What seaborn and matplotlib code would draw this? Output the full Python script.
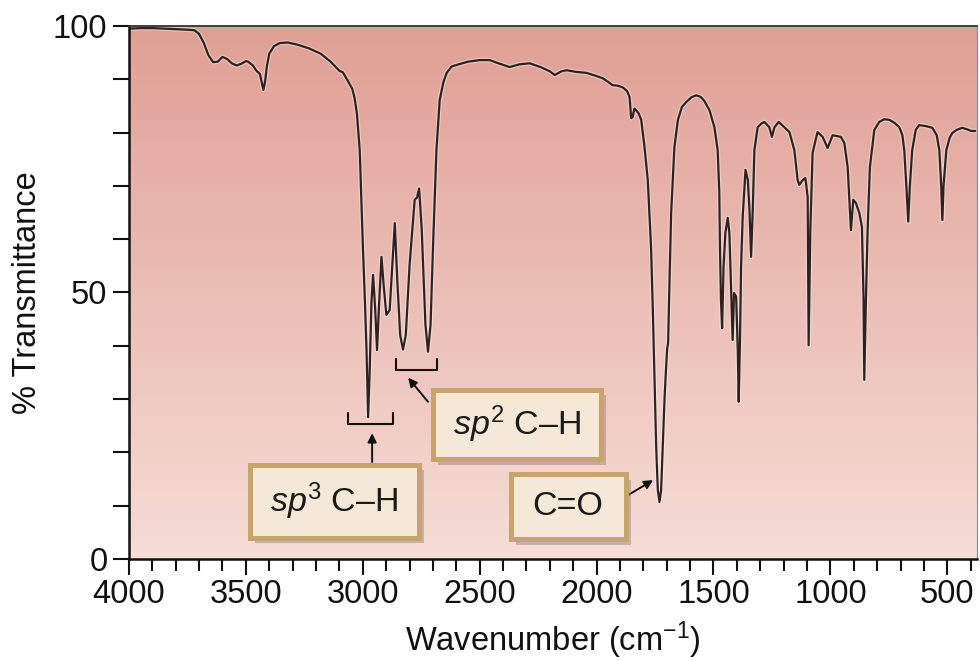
import numpy as np
import matplotlib
matplotlib.use("Agg")
import matplotlib.pyplot as plt
import matplotlib.patheffects as pe
from matplotlib.patches import Rectangle
from matplotlib.colors import to_rgb
import seaborn as sns

# ── Spectrum values ──
wavenumber = [4000, 3950, 3900, 3850, 3800, 3750, 3720, 3700, 3680, 3660, 3640, 3620,
              3600, 3580, 3560, 3540, 3520, 3500, 3490, 3470, 3455, 3440, 3430, 3425,
              3418, 3410, 3400, 3380, 3355, 3320, 3280, 3230, 3180, 3140, 3120, 3100,
              3085, 3065, 3045, 3035, 3025, 3013, 3006, 2999, 2991, 2984, 2977, 2970,
              2963, 2956, 2947, 2939, 2930, 2920, 2910, 2899, 2885, 2874, 2863, 2852,
              2840, 2828, 2816, 2800, 2778, 2768, 2759, 2748, 2732, 2721, 2710, 2700,
              2685, 2671, 2655, 2641, 2620, 2598, 2550, 2500, 2457, 2420, 2372, 2330,
              2286, 2240, 2200, 2179, 2150, 2128, 2090, 2043, 2000, 1974, 1950, 1932,
              1910, 1889, 1870, 1859, 1852, 1846, 1838, 1831, 1820, 1809, 1795, 1781,
              1774, 1767, 1759, 1752, 1745, 1738, 1731, 1724, 1717, 1709, 1702, 1698,
              1694, 1688, 1681, 1667, 1652, 1635, 1617, 1595, 1574, 1555, 1540, 1517,
              1496, 1482, 1475, 1472, 1468, 1463, 1457, 1449, 1439, 1432, 1425, 1418,
              1412, 1403, 1396, 1392, 1386, 1382, 1375, 1363, 1353, 1346, 1339, 1332,
              1325, 1311, 1295, 1282, 1261, 1250, 1239, 1221, 1197, 1175, 1154, 1140,
              1133, 1118, 1107, 1097, 1093, 1086, 1076, 1055, 1033, 1012, 990, 955,
              940, 926, 919, 912, 902, 891, 876, 865, 858, 855, 848, 841, 831, 812,
              791, 770, 748, 725, 705, 692, 684, 675, 667, 660, 650, 635, 620, 590,
              564, 545, 534, 526, 521, 516, 504, 490, 479, 460, 436, 415, 397, 380]
transmittance = [99.5, 99.6, 99.6, 99.5, 99.4, 99.3, 99.2, 98.5, 96.8, 94.5, 93.2, 93.3,
                 94.2, 93.8, 93.0, 92.6, 92.9, 93.4, 93.3, 92.6, 91.6, 91.0, 89.0, 88.0,
                 89.5, 92.5, 94.8, 96.2, 96.8, 96.9, 96.5, 95.8, 94.8, 93.4, 92.5, 91.6,
                 91.3, 89.8, 88.2, 86.5, 83.5, 76.7, 67.4, 58.0, 48.6, 39.2, 26.6, 36.0,
                 48.0, 53.3, 47.0, 39.2, 48.0, 56.7, 51.0, 45.8, 46.7, 55.0, 63.0, 52.0,
                 42.0, 39.3, 42.0, 55.0, 67.4, 67.8, 69.5, 62.0, 44.0, 38.9, 44.0, 58.0,
                 76.7, 86.1, 89.5, 91.2, 92.4, 92.7, 93.3, 93.6, 93.6, 93.0, 92.3, 92.8,
                 93.0, 92.3, 91.5, 90.8, 91.5, 91.7, 91.4, 91.2, 90.6, 90.2, 89.5, 88.9,
                 88.8, 88.5, 87.8, 86.7, 82.7, 82.9, 84.5, 84.2, 83.6, 82.4, 77.3, 71.1,
                 64.9, 58.5, 46.1, 33.6, 21.0, 12.9, 10.7, 12.9, 21.0, 30.4, 36.5, 39.5,
                 40.5, 52.3, 64.9, 77.3, 82.4, 84.8, 85.7, 86.6, 87.0, 86.7, 86.0, 84.2,
                 81.0, 76.7, 68.7, 58.0, 48.6, 43.3, 54.8, 61.2, 64.0, 61.2, 51.0, 41.1,
                 49.9, 49.2, 39.2, 29.5, 42.4, 54.8, 64.2, 73.0, 71.1, 65.5, 56.7, 65.5,
                 76.7, 81.0, 81.7, 82.0, 81.0, 79.2, 81.0, 82.0, 81.0, 80.1, 76.7, 71.1,
                 70.2, 71.1, 71.5, 67.9, 40.1, 61.2, 76.2, 80.1, 79.2, 77.1, 79.5, 79.2,
                 78.0, 73.5, 67.4, 61.7, 67.4, 66.8, 64.9, 62.3, 48.6, 33.6, 48.6, 61.2,
                 73.5, 80.5, 82.0, 82.5, 82.4, 81.8, 81.0, 79.5, 76.7, 70.0, 63.3, 70.0,
                 76.7, 80.5, 81.4, 81.2, 80.9, 79.5, 76.7, 70.0, 63.6, 70.0, 76.7, 79.0,
                 79.9, 80.5, 80.9, 80.6, 80.3, 80.3]

# ── Axis ticks ──
x_major = [4000, 3500, 3000, 2500, 2000, 1500, 1000, 500]
x_minor = list(range(4000, 399, -100))
y_ticks = [0, 10, 20, 30, 40, 50, 60, 70, 80, 90, 100]
y_labels = ["0", "", "", "", "", "50", "", "", "", "", "100"]

# ── Band annotations ──
box_labels = [r"$\mathit{sp}^{3}$ C–H", r"$\mathit{sp}^{2}$ C–H", "C=O"]
box_x = [(3484, 2761), (2701, 1982), (2368, 1875)]
box_y = [(4.0, 17.7), (18.7, 31.8), (3.7, 15.9)]
bracket_x = [(3063, 2870), (2857, 2682)]
bracket_y = [25.3, 35.5]
arrow_from = [(2960, 18.2), (2721, 29.5), (1865, 12.0)]
arrow_to = [(2960, 23.6), (2806, 34.0), (1758, 14.8)]

sns.set_theme(style="ticks")
plt.rcParams["font.family"] = ["Liberation Sans", "DejaVu Sans"]
plt.rcParams["mathtext.fontset"] = "custom"
plt.rcParams["mathtext.rm"] = "Liberation Sans"
plt.rcParams["mathtext.it"] = "Liberation Sans:italic"

fig = plt.figure(figsize=(9.8, 6.61), dpi=100)
ax = fig.add_axes([0.1316, 0.1543, 0.8653, 0.8064])

XMIN, XMAX = 4000, 373

# pink gradient background
top_c = np.array(to_rgb("#e09f95"))
bot_c = np.array(to_rgb("#f6ddd6"))
fr = np.linspace(0, 1, 256)[:, None]
grad = (bot_c[None, :] * (1 - fr) + top_c[None, :] * fr)[:, None, :]
ax.imshow(grad, extent=[XMIN, XMAX, 0, 100], origin="lower", aspect="auto", zorder=0)

sns.lineplot(x=wavenumber, y=transmittance, ax=ax, sort=False, estimator=None,
             color="#2e2220", lw=1.6, zorder=3,
             path_effects=[pe.Stroke(linewidth=3.4, foreground="white", alpha=0.35), pe.Normal()])

ax.set_xlim(XMIN, XMAX)
ax.set_ylim(0, 100)

ax.set_xticks(x_major)
ax.set_xticks(x_minor, minor=True)
ax.set_yticks(y_ticks, labels=y_labels)
ax.tick_params(axis="x", which="major", length=11.5, width=1.5, direction="out",
               labelsize=23.5, pad=3, color="#111111", labelcolor="#111111")
ax.tick_params(axis="x", which="minor", length=8.5, width=1.5, direction="out", color="#111111")
ax.tick_params(axis="y", which="major", length=11.5, width=1.5, direction="out",
               labelsize=23.5, pad=4, color="#111111", labelcolor="#111111")

ax.set_xlabel(r"Wavenumber (cm$^{-1}$)", fontsize=23.5, labelpad=7, color="#111111")
ax.set_ylabel("% Transmittance", fontsize=23.5, labelpad=7, color="#111111")

for side in ["left", "bottom"]:
    ax.spines[side].set_linewidth(1.8)
    ax.spines[side].set_color("#111111")
ax.spines["top"].set_linewidth(1.3)
ax.spines["top"].set_color("#333333")
ax.spines["right"].set_linewidth(0.8)
ax.spines["right"].set_color("#888888")
for s in ax.spines.values():
    s.set_zorder(5)

# brackets under the C-H bands
for (xa, xb), yb in zip(bracket_x, bracket_y):
    ax.plot([xa, xa, xb, xb], [yb + 2.0, yb, yb, yb + 2.0], color="#111111", lw=1.5, zorder=4)

# arrows from labels to bands
for a, b in zip(arrow_from, arrow_to):
    ax.annotate("", xy=b, xytext=a,
                arrowprops=dict(arrowstyle="-|>", color="#111111", lw=1.4,
                                mutation_scale=13, shrinkA=0, shrinkB=0), zorder=4)

# label boxes
for lab, (xa, xb), (ya, yb) in zip(box_labels, box_x, box_y):
    rect = Rectangle((xa, ya), xb - xa, yb - ya, fc="#f6e8d6", ec="#c8a36c", lw=3.6, zorder=6,
                     path_effects=[pe.SimplePatchShadow(offset=(4, -4), shadow_rgbFace="#8c7d7a",
                                                        alpha=0.45), pe.Normal()])
    ax.add_patch(rect)
    ax.text((xa + xb) / 2, (ya + yb) / 2, lab, ha="center", va="center",
            fontsize=24.5, color="#1a1a1a", zorder=7)

fig.savefig("out.png", dpi=100)
